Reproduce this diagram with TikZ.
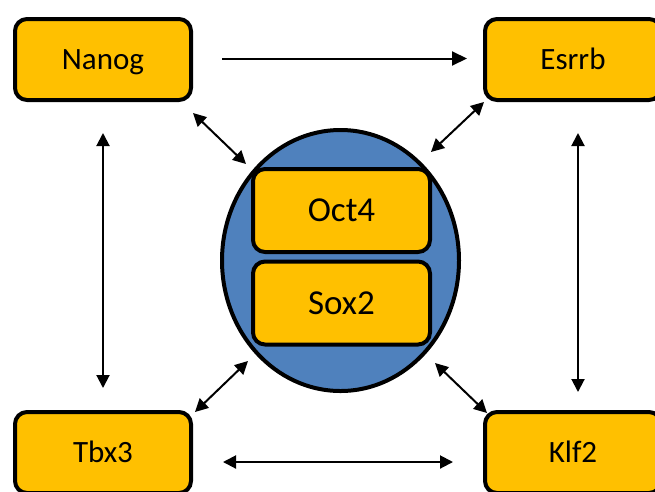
\documentclass[tikz,border=0pt]{standalone}
\usepackage{fontspec}
\setmainfont{Carlito}
\usetikzlibrary{arrows.meta,shapes.geometric}
\definecolor{boxfill}{HTML}{FFC000}
\definecolor{corefill}{HTML}{4F81BD}
\begin{document}
\begin{tikzpicture}[x=1pt,y=-1pt,
  gene/.style={draw=black, line width=4pt, fill=boxfill, rounded corners=12pt,
    minimum width=176pt, minimum height=81pt, inner sep=0pt,
    text height=20pt, text depth=0pt, font=\fontsize{31}{37}\selectfont},
  coregene/.style={gene, minimum width=177pt, minimum height=83pt,
    text height=22.5pt, font=\fontsize{35}{42}\selectfont},
  link/.style={line width=2pt, -{Triangle[length=15pt,width=14pt]}},
  dlink/.style={line width=2pt, {Triangle[length=13pt,width=13pt]}-{Triangle[length=13pt,width=13pt]}}]
\useasboundingbox (0,0) rectangle (655,491);
\node[ellipse, draw=black, line width=4pt, fill=corefill, inner sep=0pt,
  minimum width=237pt, minimum height=261pt] (core) at (340.5,260.5) {};
\node[gene] (nanog) at (103,59.5) {Nanog};
\node[gene] (esrrb) at (573,59.5) {Esrrb};
\node[gene] (tbx3) at (103,452.5) {Tbx3};
\node[gene] (klf2) at (573,452.5) {Klf2};
\node[coregene] (oct4) at (341.5,210.5) {Oct4};
\node[coregene] (sox2) at (341.5,303) {Sox2};
\draw[link] ([xshift=29pt,yshift=1pt]nanog.east) -- ([xshift=-16pt,yshift=1pt]esrrb.west);
\draw[dlink] ([yshift=-31pt]nanog.south) -- ([yshift=22pt]tbx3.north);
\draw[dlink] ([xshift=5pt,yshift=-31pt]esrrb.south) -- ([xshift=5pt,yshift=18pt]klf2.north);
\draw[dlink] ([xshift=30pt,yshift=-9.5pt]tbx3.east) -- ([xshift=-30pt,yshift=-9.5pt]klf2.west);
\draw[dlink] ([yshift=-11pt]nanog.south east) -- ([xshift=-94.5pt,yshift=96.5pt]core.center);
\draw[dlink] ([xshift=1pt]esrrb.south west) -- ([xshift=90.5pt,yshift=108.5pt]core.center);
\draw[dlink] ([xshift=-92.5pt,yshift=-100.5pt]core.center) -- ([xshift=2pt,yshift=-2pt]tbx3.north east);
\draw[dlink] ([xshift=94.5pt,yshift=-102.5pt]core.center) -- ([xshift=4pt,yshift=-3pt]klf2.north west);
\end{tikzpicture}
\end{document}
